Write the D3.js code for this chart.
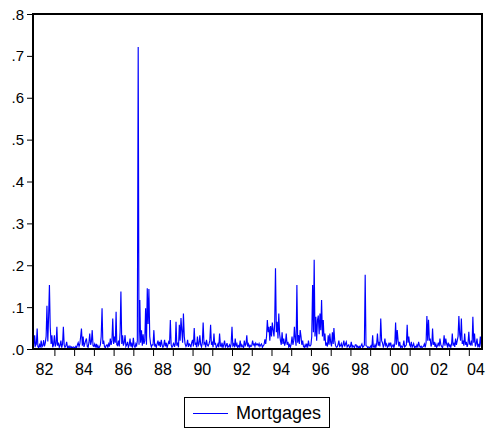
<!DOCTYPE html>
<html>
<head>
<meta charset="utf-8">
<script src="https://cdn.jsdelivr.net/npm/d3@7/dist/d3.min.js"></script>
<style>
  html, body { margin: 0; padding: 0; background: #fff; }
  svg { display: block; }
  text { font-family: "Liberation Sans", Arial, Helvetica, sans-serif; fill: #000; }
</style>
</head>
<body>
<svg id="chart" width="486" height="429"></svg>
<script>
// Series: Mortgages, semi-monthly observations (1st and 16th of each month),
// starting 1 Dec 1981 and ending 1 Sep 2004. One row per calendar year.
const seriesStart = new Date(1981, 11, 1);
const seriesName = "Mortgages";
const mortgages = [
  // 1981 (Dec)
  .012, .004,
  // 1982
  .033, .008, .012, .049, .006, .003, .010, .004, .020, .005, .008, .021,
  .006, .014, .030, .103, .018, .077, .153, .052, .012, .033, .004, .010,
  // 1983
  .033, .006, .012, .053, .008, .015, .004, .009, .020, .003, .012, .053,
  .010, .004, .008, .017, .003, .006, .002, .007, .003, .005, .002, .005,
  // 1984
  .004, .002, .006, .003, .010, .015, .006, .012, .030, .049, .008, .030,
  .005, .012, .020, .025, .006, .004, .015, .037, .010, .018, .045, .008,
  // 1985
  .006, .012, .004, .012, .003, .008, .002, .005, .010, .030, .097, .012,
  .020, .006, .003, .008, .010, .004, .012, .006, .025, .010, .020, .073,
  // 1986
  .012, .030, .015, .089, .010, .008, .020, .006, .040, .137, .012, .033,
  .008, .015, .033, .006, .010, .017, .004, .009, .025, .006, .012, .003,
  // 1987
  .027, .008, .004, .012, .006, .020, .721, .010, .117, .015, .045, .008,
  .035, .012, .020, .097, .010, .145, .060, .143, .030, .012, .005, .010,
  // 1988
  .010, .045, .006, .010, .004, .012, .020, .008, .017, .005, .022, .010,
  .004, .008, .022, .006, .015, .003, .010, .017, .012, .069, .010, .004,
  // 1989
  .008, .015, .005, .012, .065, .008, .015, .004, .058, .020, .074, .043,
  .015, .085, .030, .012, .006, .010, .022, .005, .012, .010, .004, .015,
  // 1990
  .022, .006, .050, .010, .015, .004, .030, .008, .012, .033, .010, .005,
  .015, .063, .012, .015, .004, .022, .010, .007, .012, .020, .058, .010,
  // 1991
  .015, .004, .037, .010, .015, .003, .007, .012, .004, .037, .008, .006,
  .015, .003, .010, .020, .005, .008, .014, .004, .006, .010, .003, .012,
  // 1992
  .053, .008, .012, .004, .025, .006, .012, .003, .008, .005, .020, .004,
  .010, .006, .003, .020, .008, .012, .033, .006, .012, .004, .009, .006,
  // 1993
  .008, .020, .010, .012, .006, .014, .010, .012, .008, .013, .006, .010,
  .012, .004, .008, .010, .023, .012, .030, .069, .040, .053, .020, .055,
  // 1994
  .030, .063, .045, .030, .060, .193, .040, .065, .025, .085, .035, .020,
  .010, .040, .012, .025, .008, .015, .037, .010, .017, .005, .010, .004,
  // 1995
  .012, .030, .010, .020, .053, .025, .008, .153, .015, .033, .012, .045,
  .030, .010, .020, .006, .004, .010, .005, .013, .003, .020, .008, .007,
  // 1996
  .010, .030, .153, .040, .213, .030, .077, .020, .069, .080, .035, .085,
  .045, .117, .030, .069, .020, .037, .008, .013, .006, .033, .010, .037,
  // 1997
  .015, .006, .040, .012, .050, .020, .008, .004, .005, .010, .020, .006,
  .008, .013, .004, .010, .020, .006, .012, .017, .005, .008, .010, .003,
  // 1998
  .006, .017, .004, .008, .006, .003, .010, .010, .004, .007, .003, .006,
  .002, .008, .012, .004, .006, .010, .177, .008, .007, .003, .005, .004,
  // 1999
  .004, .008, .002, .033, .006, .004, .010, .003, .012, .037, .008, .017,
  .006, .073, .020, .015, .005, .010, .025, .008, .012, .004, .006, .015,
  // 2000
  .008, .015, .004, .007, .010, .003, .012, .063, .010, .045, .020, .006,
  .017, .004, .007, .003, .008, .020, .005, .007, .010, .058, .015, .030,
  // 2001
  .010, .006, .017, .004, .008, .013, .003, .006, .004, .010, .005, .017,
  .008, .004, .007, .003, .005, .007, .012, .004, .015, .079, .020, .070,
  // 2002
  .020, .025, .006, .012, .049, .010, .017, .005, .012, .004, .008, .015,
  .006, .025, .010, .006, .003, .012, .033, .008, .025, .012, .006, .015,
  // 2003
  .006, .010, .004, .012, .037, .008, .013, .005, .025, .010, .020, .030,
  .079, .035, .020, .073, .012, .020, .008, .037, .010, .017, .005, .012,
  // 2004 (Jan - Sep)
  .041, .012, .010, .020, .008, .077, .015, .037, .006, .012, .025, .004,
  .010, .006, .030, .008, .010
];

// Axis tick definitions
const yTicks = [0, .1, .2, .3, .4, .5, .6, .7, .8];
const yearTicks = [1983, 1984, 1985, 1986, 1987, 1988, 1989, 1990, 1991, 1992, 1993,
                   1994, 1995, 1996, 1997, 1998, 1999, 2000, 2001, 2002, 2003, 2004];
const yearLabels = [1982, 1984, 1986, 1988, 1990, 1992, 1994, 1996, 1998, 2000, 2002, 2004];

// Observation dates: two per month (1st and 16th)
const data = mortgages.map((v, i) => {
  const m = d3.timeMonth.offset(seriesStart, Math.floor(i / 2));
  return { date: new Date(m.getFullYear(), m.getMonth(), i % 2 ? 16 : 1), value: v };
});

const width = 486;
const plot = { left: 33, right: 482, top: 14, bottom: 349 };
const svg = d3.select("#chart");

const x = d3.scaleTime()
  .domain(d3.extent(data, d => d.date))
  .range([plot.left, plot.right]);
const y = d3.scaleLinear()
  .domain([0, 0.8])
  .range([plot.bottom, plot.top]);

svg.append("defs").append("clipPath").attr("id", "plot-clip")
  .append("rect")
  .attr("x", plot.left).attr("y", plot.top)
  .attr("width", plot.right - plot.left).attr("height", plot.bottom - plot.top);

// Series line
svg.append("path")
  .datum(data)
  .attr("clip-path", "url(#plot-clip)")
  .attr("fill", "none")
  .attr("stroke", "#0000ff")
  .attr("stroke-width", 1.15)
  .attr("stroke-linejoin", "miter")
  .attr("d", d3.line().x(d => x(d.date)).y(d => y(d.value)));

// Left value axis
const yAxis = svg.append("g")
  .attr("transform", `translate(${plot.left},0)`)
  .call(d3.axisLeft(y)
    .tickValues(yTicks)
    .tickSize(6)
    .tickPadding(3)
    .tickFormat(d => d3.format(".1f")(d).replace(/^0/, "")));
yAxis.select(".domain").remove();
yAxis.selectAll(".tick line").attr("stroke", "#000").attr("stroke-width", 1);
yAxis.selectAll(".tick text").style("font-size", "15px").attr("dy", "0.34em");

// Bottom time axis: ticks at year starts, labels centred on each labelled year
const xAxis = svg.append("g")
  .attr("transform", `translate(0,${plot.bottom})`)
  .call(d3.axisBottom(x)
    .tickValues(yearTicks.map(yr => new Date(yr, 0, 1)))
    .tickSize(7)
    .tickFormat(""));
xAxis.select(".domain").remove();
xAxis.selectAll(".tick line").attr("stroke", "#000").attr("stroke-width", 1);

// Year labels; the last one is kept inside the canvas
svg.append("g")
  .selectAll("text")
  .data(yearLabels)
  .join("text")
  .attr("x", yr => Math.min(x(new Date(yr, 6, 1)), width - 10))
  .attr("y", 375)
  .attr("text-anchor", "middle")
  .style("font-size", "16px")
  .text(yr => d3.timeFormat("%y")(new Date(yr, 0, 1)));

// Plot frame
svg.append("rect")
  .attr("x", plot.left).attr("y", plot.top)
  .attr("width", plot.right - plot.left).attr("height", plot.bottom - plot.top)
  .attr("fill", "none")
  .attr("stroke", "#000")
  .attr("stroke-width", 2);

// Legend
const legend = svg.append("g");
legend.append("rect")
  .attr("x", 184.5).attr("y", 397.5)
  .attr("width", 145).attr("height", 30)
  .attr("fill", "#fff")
  .attr("stroke", "#000")
  .attr("stroke-width", 1);
legend.append("line")
  .attr("x1", 193).attr("x2", 228)
  .attr("y1", 413.5).attr("y2", 413.5)
  .attr("stroke", "#0000ff")
  .attr("stroke-width", 1);
legend.append("text")
  .attr("x", 236).attr("y", 419)
  .style("font-size", "18px")
  .text(seriesName);
</script>
</body>
</html>
